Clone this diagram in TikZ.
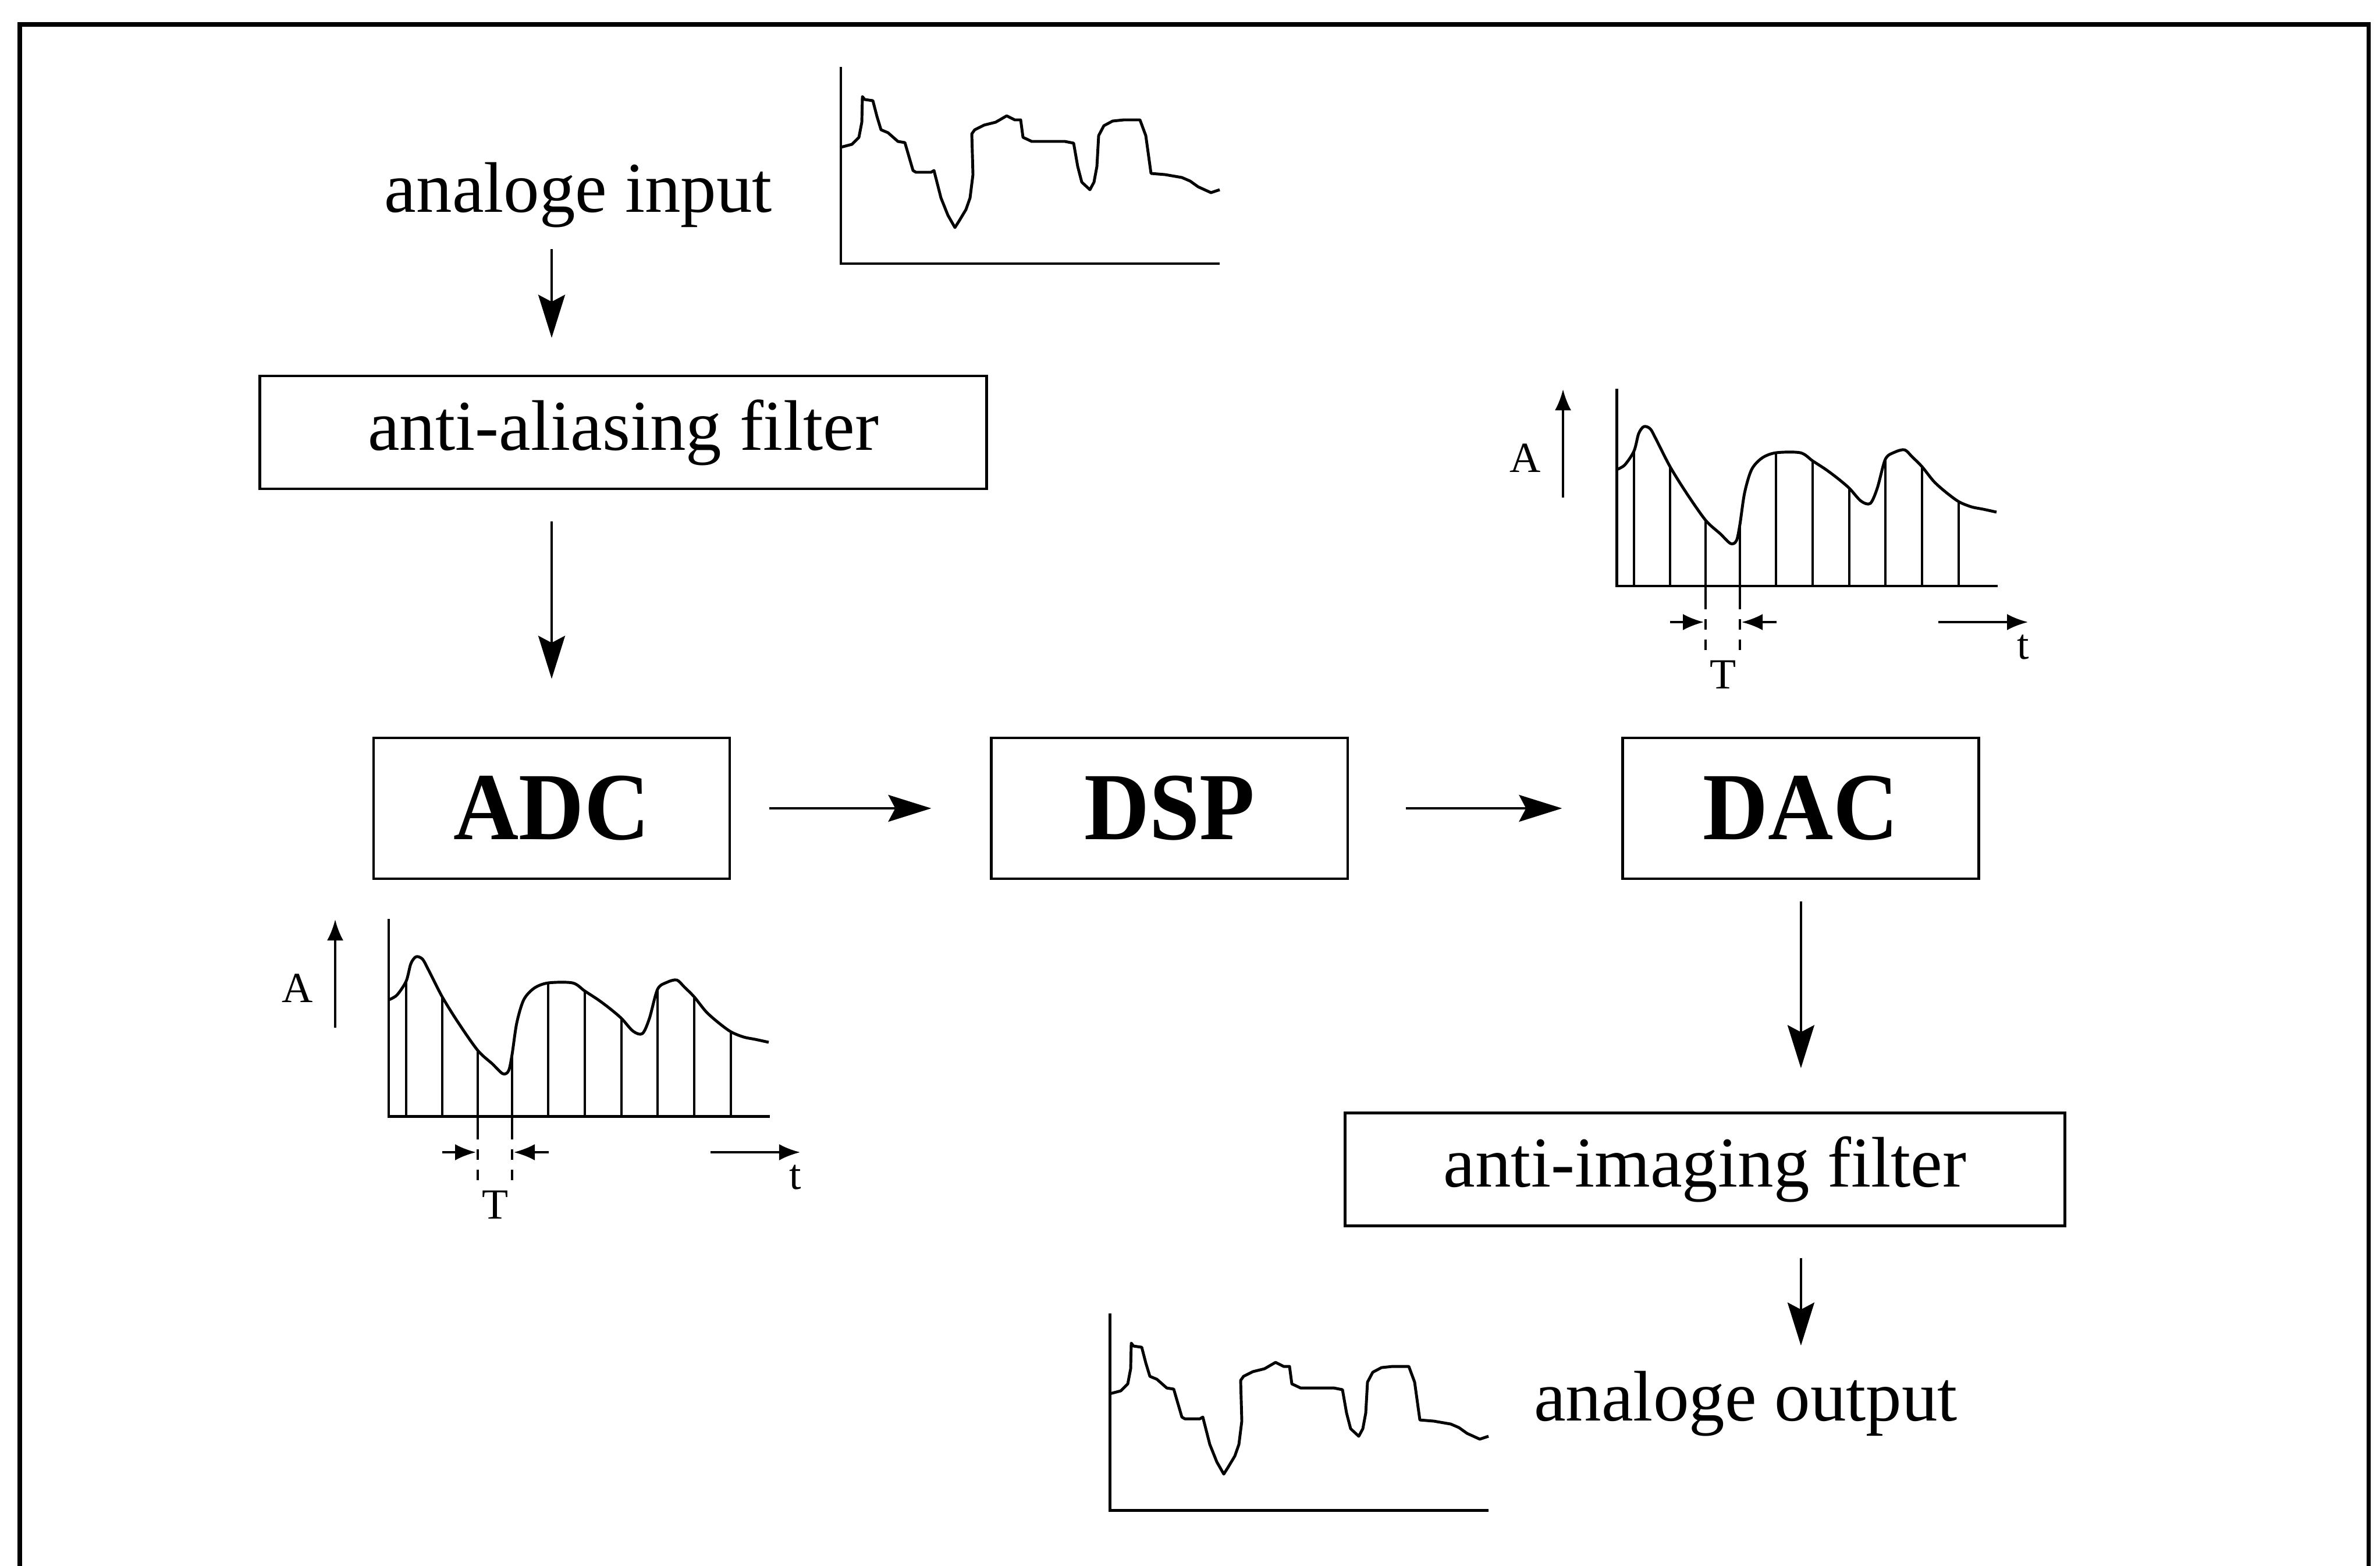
\documentclass[tikz,border=0pt]{standalone}
\usepackage{fontspec}
\setmainfont{Liberation Serif}
\newfontfamily\boxfont[FakeStretch=0.94]{Liberation Serif}
\usetikzlibrary{positioning,arrows.meta}

\newcommand{\analogwave}{%
  \draw[plotaxis] (0,338) -- (0,0) -- (651,0);
  \draw[wave] plot coordinates {(0,200) (19,205) (31,217) (36,243) (37,287) (41,282)
    (55,280) (62,253) (69,230) (81,225) (98,210) (110,208) (124,160) (129,157)
    (155,157) (160,160) (172,113) (184,83) (196,62) (203,73) (215,93) (222,113)
    (227,153) (225,223) (230,230) (246,238) (266,243) (285,254) (299,247) (309,247)
    (313,217) (328,210) (385,210) (400,207) (407,167) (414,140) (428,127) (435,140)
    (440,167) (443,220) (452,237) (467,245) (486,247) (514,247) (524,220) (533,155)
    (557,153) (586,148) (600,142) (614,132) (636,122) (651,127)};
}
\newcommand{\sampledwave}[1]{%
  \draw[plotaxis] (0,339) -- (0,0) -- (655,0);
  \draw[wave] plot[smooth, tension=0.5] coordinates {(0,200) (14,208) (30,232) (38,262)
    (47,274) (58,270) (68,252) (92,205) (120,160) (153,113) (178,90) (196,73) (206,78)
    (212,106) (220,160) (232,200) (250,220) (274,229) (316,229) (337,215) (360,200)
    (380,185) (400,168) (420,146) (436,142) (448,168) (462,218) (478,230) (495,234)
    (508,222) (525,205) (545,180) (565,162) (588,145) (610,136) (630,132) (653,127)};
  \foreach \sx/\sy in {30/232, 92/205, 153/113, 212/106, 274/229, 337/215,
      400/168, 462/218, 525/205, 588/145}
    \draw[sample] (\sx,0) -- (\sx,\sy);
  \foreach \sx in {153,212} {
    \draw[sample] (\sx,0) -- (\sx,-22);
    \draw[sample, dash pattern=on 2.5pt off 2.5pt] (\sx,-22) -- (\sx,-118);
  }
  \draw[tickarr] (-92,152) -- (-92,338);
  \draw[tickarr] (92,-62) -- (150,-62);
  \draw[tickarr] (275,-62) -- (215,-62);
  \draw[tickarr] (553,-62) -- (707,-62);
  \node[smalltxt] (#1A) at (-157,220) {A};
  \node[smalltxt] (#1T) at (183,-152) {T};
  \node[smalltxt] (#1t) at (699,-105) {t};
}

\begin{document}
\begin{tikzpicture}[
    frameline/.style={line width=1pt},
    box/.style={draw, line width=0.7pt, inner sep=0pt, minimum height=0.97cm,
        font=\fontsize{17.5}{21}\selectfont},
    bigbox/.style={draw, line width=0.7pt, inner sep=0pt, minimum width=3.06cm,
        minimum height=1.21cm, font=\boxfont\fontsize{23.5}{28}\selectfont\bfseries},
    txt/.style={inner sep=0pt, anchor=base, font=\fontsize{17.5}{21}\selectfont},
    smalltxt/.style={inner sep=0pt, font=\fontsize{10.5}{12}\selectfont},
    arr/.style={-{Stealth[length=3.7mm, width=2.3mm, inset=0.6mm]}, line width=0.55pt},
    tickarr/.style={-{Latex[length=1.8mm, width=1.4mm]}, line width=0.5pt},
    plotaxis/.style={line width=0.7pt},
    wave/.style={line width=0.7pt, line join=round},
    sample/.style={line width=0.45pt},
    plotscale/.style={x=0.05mm, y=0.05mm}
  ]
  \useasboundingbox (0,0) rectangle (20.45,-13.45);
  \draw[frameline] (0.17,-0.21) rectangle (20.35,-13.7);

  \node[txt] (inp) at (4.97,-1.82) {analoge input};
  \node[box, minimum width=6.245cm] (aaf) at (5.355,-3.715) {anti-aliasing filter};
  \node[bigbox] (adc) at (4.74,-6.945) {ADC};
  \node[bigbox, right=2.225cm of adc] (dsp) {DSP};
  \node[bigbox, right=2.34cm of dsp] (dac) {DAC};
  \node[box, minimum width=6.185cm] (aif) at (14.65,-10.045) {anti-imaging filter};
  \node[txt] (outp) at (15.0,-12.205) {analoge output};

  \draw[arr, shorten <=0.18cm, shorten >=0.315cm] (inp.south -| adc) -- (aaf.north -| adc);
  \draw[arr, shorten <=0.27cm, shorten >=0.495cm] (aaf.south -| adc) -- (adc.north);
  \draw[arr, shorten <=0.33cm, shorten >=0.505cm] (adc) -- (dsp);
  \draw[arr, shorten <=0.49cm, shorten >=0.51cm] (dsp) -- (dac);
  \draw[arr, shorten <=0.185cm, shorten >=0.37cm] (dac) -- (aif.north -| dac);
  \draw[arr, shorten <=0.265cm, shorten >=0.21cm] (aif.south -| dac) -- (outp.north -| dac);

  \begin{scope}[shift={(7.225cm,-2.265cm)}, plotscale]
    \analogwave
  \end{scope}
  \begin{scope}[shift={(9.535cm,-12.975cm)}, plotscale]
    \analogwave
  \end{scope}
  \begin{scope}[shift={(3.34cm,-9.59cm)}, plotscale]
    \sampledwave{adc}
  \end{scope}
  \begin{scope}[shift={(13.89cm,-5.035cm)}, plotscale]
    \sampledwave{dac}
  \end{scope}
\end{tikzpicture}
\end{document}
